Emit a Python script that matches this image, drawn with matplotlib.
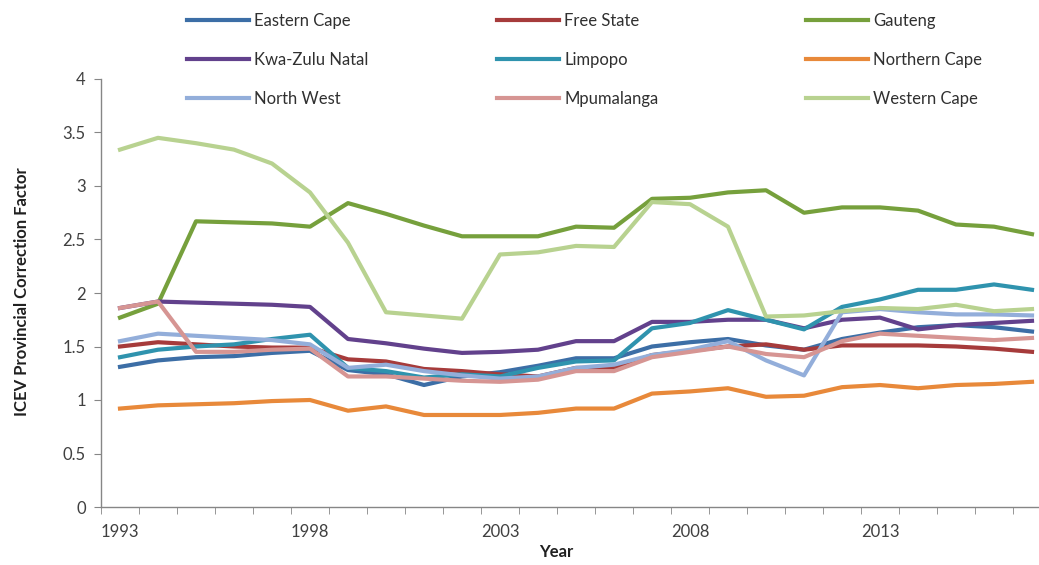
import matplotlib
matplotlib.use("Agg")
import matplotlib.pyplot as plt
import numpy as np

years = list(range(1993, 2018))
tick_years = [1993, 1998, 2003, 2008, 2013]

eastern_cape = [1.31, 1.37, 1.40, 1.41, 1.44, 1.46, 1.28, 1.24, 1.14, 1.22, 1.26, 1.32, 1.39, 1.39, 1.50, 1.54, 1.57, 1.51, 1.47, 1.57, 1.63, 1.68, 1.70, 1.68, 1.64]
free_state = [1.50, 1.54, 1.52, 1.50, 1.49, 1.49, 1.38, 1.36, 1.29, 1.27, 1.24, 1.22, 1.30, 1.30, 1.42, 1.46, 1.50, 1.52, 1.47, 1.51, 1.51, 1.51, 1.50, 1.48, 1.45]
gauteng = [1.77, 1.90, 2.67, 2.66, 2.65, 2.62, 2.84, 2.74, 2.63, 2.53, 2.53, 2.53, 2.62, 2.61, 2.88, 2.89, 2.94, 2.96, 2.75, 2.80, 2.80, 2.77, 2.64, 2.62, 2.55]
kwazulu_natal = [1.86, 1.92, 1.91, 1.90, 1.89, 1.87, 1.57, 1.53, 1.48, 1.44, 1.45, 1.47, 1.55, 1.55, 1.73, 1.73, 1.75, 1.75, 1.67, 1.75, 1.77, 1.66, 1.70, 1.72, 1.74]
limpopo = [1.40, 1.47, 1.50, 1.52, 1.57, 1.61, 1.30, 1.27, 1.21, 1.24, 1.22, 1.30, 1.36, 1.37, 1.67, 1.72, 1.84, 1.75, 1.66, 1.87, 1.94, 2.03, 2.03, 2.08, 2.03]
northern_cape = [0.92, 0.95, 0.96, 0.97, 0.99, 1.00, 0.90, 0.94, 0.86, 0.86, 0.86, 0.88, 0.92, 0.92, 1.06, 1.08, 1.11, 1.03, 1.04, 1.12, 1.14, 1.11, 1.14, 1.15, 1.17]
north_west = [1.55, 1.62, 1.60, 1.58, 1.56, 1.52, 1.30, 1.33, 1.27, 1.23, 1.20, 1.22, 1.30, 1.33, 1.42, 1.47, 1.55, 1.37, 1.23, 1.82, 1.85, 1.82, 1.80, 1.80, 1.79]
mpumalanga = [1.86, 1.92, 1.45, 1.45, 1.47, 1.48, 1.22, 1.22, 1.20, 1.18, 1.17, 1.19, 1.27, 1.27, 1.40, 1.45, 1.50, 1.43, 1.40, 1.55, 1.62, 1.60, 1.58, 1.56, 1.58]
western_cape = [3.34, 3.45, 3.40, 3.34, 3.21, 2.94, 2.47, 1.82, 1.79, 1.76, 2.36, 2.38, 2.44, 2.43, 2.85, 2.83, 2.62, 1.78, 1.79, 1.83, 1.86, 1.85, 1.89, 1.83, 1.85]

series = [
    ("Eastern Cape", eastern_cape, "#3C6EA6"),
    ("Free State", free_state, "#A63B3B"),
    ("Gauteng", gauteng, "#76A03C"),
    ("Kwa-Zulu Natal", kwazulu_natal, "#62418C"),
    ("Limpopo", limpopo, "#2F93AE"),
    ("Northern Cape", northern_cape, "#E8893A"),
    ("North West", north_west, "#93AEDA"),
    ("Mpumalanga", mpumalanga, "#D69593"),
    ("Western Cape", western_cape, "#B8D290"),
]

plt.rcParams['font.family'] = ['Lato', 'DejaVu Sans']
fig = plt.figure(figsize=(10.39, 5.65), dpi=100)
W, H = 1039, 565
ax = fig.add_axes([101 / W, (H - 507) / H, 950 / W, (507 - 79) / H])

x = np.arange(len(years))
handles = []
for name, vals, col in series:
    h, = ax.plot(x, vals, color=col, lw=3.0, label=name, solid_joinstyle='round')
    handles.append(h)

ax.set_xlim(-0.5, len(years) - 0.5)
ax.set_ylim(0, 4)
ax.set_yticks(np.arange(0, 4.01, 0.5))
ax.set_yticklabels([f"{v:g}" for v in np.arange(0, 4.01, 0.5)], fontsize=12, color="#404040")
ax.set_xticks([years.index(y) for y in tick_years])
ax.set_xticklabels([str(y) for y in tick_years], fontsize=12, color="#404040")
ax.set_xticks(np.arange(-0.5, len(years), 1.0), minor=True)
ax.tick_params(axis='x', which='major', length=0, pad=12)
ax.tick_params(axis='x', which='minor', length=5, color="#868686", direction='out')
ax.tick_params(axis='y', which='major', length=5, color="#868686", direction='out', pad=6)

for s in ['top', 'right']:
    ax.spines[s].set_visible(False)
for s in ['left', 'bottom']:
    ax.spines[s].set_color("#868686")
    ax.spines[s].set_linewidth(1.0)

fig.text(22 / W, 1 - 292 / H, "ICEV Provincial Correction Factor", rotation=90,
         ha='center', va='center', fontsize=12, fontweight='bold', color="#202020")
fig.text(556 / W, 1 - 552 / H, "Year", ha='center', va='center', fontsize=12,
         fontweight='bold', color="#202020")

# legend: 3 columns laid out row by row, fixed column grid
col_x = [184, 494, 803]
for c in range(3):
    hs = [handles[r * 3 + c] for r in range(3)]
    leg = fig.legend(handles=hs, loc='upper left', bbox_to_anchor=(col_x[c] / W, 1 - 10 / H),
                     ncol=1, frameon=False, fontsize=12, handlelength=3.7,
                     handletextpad=0.3, labelspacing=1.38, borderaxespad=0,
                     borderpad=0.2)
    for t in leg.get_texts():
        t.set_color("#303030")

fig.savefig("out.png", dpi=100)
